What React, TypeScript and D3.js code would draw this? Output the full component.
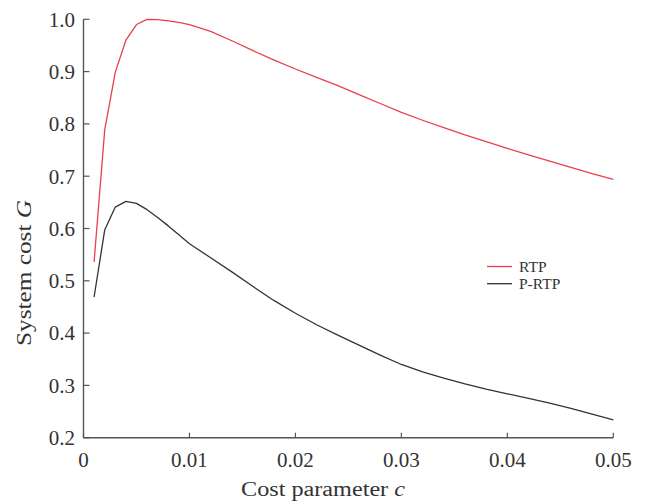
import React from "react";
import * as d3 from "d3";

const costC = [
  0.001, 0.002, 0.003, 0.004, 0.005, 0.006, 0.007, 0.008, 0.009, 0.01,
  0.012, 0.014, 0.016, 0.018, 0.02, 0.022, 0.024, 0.026, 0.028, 0.03,
  0.032, 0.034, 0.036, 0.038, 0.04, 0.042, 0.044, 0.046, 0.048, 0.05,
];
const rtp = [
  0.536, 0.788, 0.899, 0.96, 0.99, 1.0, 0.9995, 0.997, 0.994, 0.99,
  0.977, 0.959, 0.94, 0.922, 0.905, 0.889, 0.873, 0.856, 0.839, 0.822,
  0.807, 0.793, 0.779, 0.766, 0.753, 0.741, 0.729, 0.717, 0.705, 0.694,
];
const pRtp = [
  0.469, 0.597, 0.641, 0.652, 0.648, 0.636, 0.621, 0.605, 0.588, 0.571,
  0.544, 0.517, 0.489, 0.462, 0.438, 0.416, 0.396, 0.377, 0.358, 0.34,
  0.326, 0.314, 0.303, 0.293, 0.284, 0.275, 0.266, 0.256, 0.245, 0.234,
];
const xTicks = [0, 0.01, 0.02, 0.03, 0.04, 0.05];
const xTickLabels = ["0", "0.01", "0.02", "0.03", "0.04", "0.05"];
const yTicks = [0.2, 0.3, 0.4, 0.5, 0.6, 0.7, 0.8, 0.9, 1.0];
const yTickLabels = ["0.2", "0.3", "0.4", "0.5", "0.6", "0.7", "0.8", "0.9", "1.0"];
const seriesNames = ["RTP", "P-RTP"];
const seriesColors = ["#e8404a", "#333333"];

export default function App() {
  const W = 648;
  const H = 501;
  const x = d3.scaleLinear().domain([0, 0.05]).range([83.5, 613.3]);
  const y = d3.scaleLinear().domain([0.2, 1.0]).range([437.7, 19.3]);
  const line = d3
    .line<number>()
    .x((_, i) => x(costC[i]))
    .y((d) => y(d));
  const font = "'Liberation Serif', 'Times New Roman', serif";
  const axisColor = "#555";
  const series = [rtp, pRtp];
  return (
    <svg
      width={W}
      height={H}
      style={{ position: "absolute", left: 0, top: 0, background: "#fff" }}
      fontFamily={font}
    >
      {series.map((s, k) => (
        <path
          key={k}
          d={line(s) || ""}
          fill="none"
          stroke={seriesColors[k]}
          strokeWidth={1.3}
          strokeLinejoin="round"
        />
      ))}
      <line x1={x(0)} x2={x(0.05)} y1={y(0.2)} y2={y(0.2)} stroke={axisColor} strokeWidth={1.4} />
      <line x1={x(0)} x2={x(0)} y1={y(0.2)} y2={y(1.0)} stroke={axisColor} strokeWidth={1.4} />
      {xTicks.map((t, i) => (
        <g key={"xt" + i}>
          <line x1={x(t)} x2={x(t)} y1={y(0.2)} y2={y(0.2) - 5} stroke={axisColor} strokeWidth={1.2} />
          <text x={x(t)} y={467} textAnchor="middle" fontSize={21} fill="#333">
            {xTickLabels[i]}
          </text>
        </g>
      ))}
      {yTicks.map((t, i) => (
        <g key={"yt" + i}>
          <line x1={x(0)} x2={x(0) + 6} y1={y(t)} y2={y(t)} stroke={axisColor} strokeWidth={1.2} />
          <text x={75} y={y(t)} dy="0.35em" textAnchor="end" fontSize={21} fill="#333">
            {yTickLabels[i]}
          </text>
        </g>
      ))}
      <text
        x={241}
        y={496}
        fontSize={20}
        fill="#333"
        textLength={164}
        lengthAdjust="spacingAndGlyphs"
      >
        Cost parameter <tspan fontStyle="italic">c</tspan>
      </text>
      <text
        transform={`translate(31,346) rotate(-90)`}
        fontSize={20}
        fill="#333"
        textLength={146}
        lengthAdjust="spacingAndGlyphs"
      >
        System cost <tspan fontStyle="italic">G</tspan>
      </text>
      {seriesNames.map((n, k) => (
        <g key={"lg" + k}>
          <line x1={487} x2={512} y1={266.5 + k * 17.2} y2={266.5 + k * 17.2} stroke={seriesColors[k]} strokeWidth={1.3} />
          <text x={519} y={266.5 + k * 17.2} dy="0.35em" fontSize={15.5} fill="#333">
            {n}
          </text>
        </g>
      ))}
    </svg>
  );
}
